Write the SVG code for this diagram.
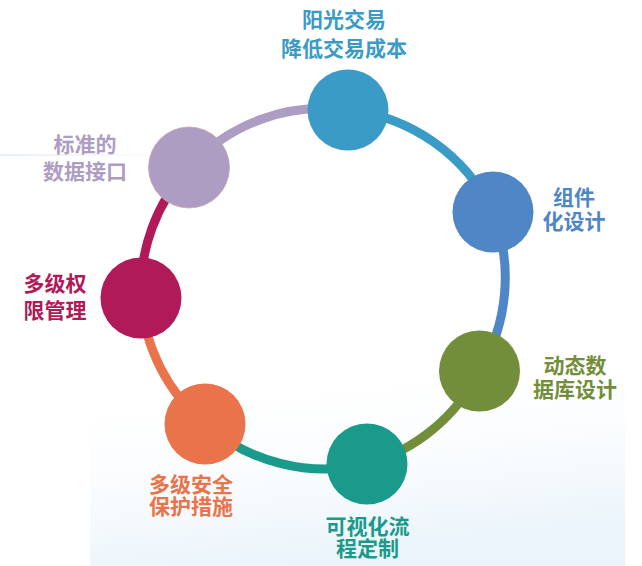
<svg xmlns="http://www.w3.org/2000/svg" width="642" height="566" viewBox="0 0 642 566">
<defs>
<linearGradient id="bg" x1="0" y1="0" x2="0.3" y2="1">
<stop offset="0" stop-color="#ffffff" stop-opacity="0"/>
<stop offset="1" stop-color="#e8f3fa" stop-opacity="0.9"/>
</linearGradient>
<linearGradient id="band" x1="0" y1="0" x2="1" y2="0">
<stop offset="0" stop-color="#e6eef6"/>
<stop offset="1" stop-color="#ffffff" stop-opacity="0"/>
</linearGradient>
<style>
.arc{fill:none;stroke-width:9;}
.lbl{font-family:"Noto Sans CJK SC","Microsoft YaHei",sans-serif;font-weight:bold;font-size:21px;}
</style>
</defs>
<rect width="642" height="566" fill="#ffffff"/>
<rect x="90" y="380" width="535" height="186" fill="url(#bg)"/>
<rect x="0" y="154" width="260" height="2" fill="url(#band)"/>
<g id="connectors">
<path class="arc" stroke="#3a9bc6" d="M348,110 A182,182 0 0 1 493,212"/>
<path class="arc" stroke="#4f86c6" d="M493,212 A182,182 0 0 1 479.5,371"/>
<path class="arc" stroke="#738e3a" d="M479.5,371 A182,182 0 0 1 367,464"/>
<path class="arc" stroke="#1a9a8b" d="M367,464 A182,182 0 0 1 205,424"/>
<path class="arc" stroke="#e9734a" d="M205,424 A182,182 0 0 1 141,298"/>
<path class="arc" stroke="#b01a58" d="M141,298 A182,182 0 0 1 189,167.5"/>
<path class="arc" stroke="#ae9dc2" d="M189,167.5 A182,182 0 0 1 348,110"/>
</g>
<g id="node-top">
<circle cx="348" cy="110" r="40.5" fill="#3a9bc6"/>
<text class="lbl" fill="#3a9bc6" text-anchor="middle"><tspan x="344" y="27">阳光交易</tspan><tspan x="344" y="56">降低交易成本</tspan></text>
</g>
<g id="node-component">
<circle cx="493" cy="212" r="40.5" fill="#4f86c6"/>
<text class="lbl" fill="#4f86c6" text-anchor="middle"><tspan x="574" y="205">组件</tspan><tspan x="574" y="229">化设计</tspan></text>
</g>
<g id="node-db">
<circle cx="479.5" cy="371" r="40.5" fill="#738e3a"/>
<text class="lbl" fill="#738e3a" text-anchor="middle"><tspan x="575" y="373">动态数</tspan><tspan x="575" y="396.5">据库设计</tspan></text>
</g>
<g id="node-flow">
<circle cx="367" cy="464" r="40.5" fill="#1a9a8b"/>
<text class="lbl" fill="#1a9a8b" text-anchor="middle"><tspan x="367.5" y="534">可视化流</tspan><tspan x="367.5" y="556">程定制</tspan></text>
</g>
<g id="node-security">
<circle cx="205" cy="424" r="40.5" fill="#e9734a"/>
<text class="lbl" fill="#e9734a" text-anchor="middle"><tspan x="191" y="492">多级安全</tspan><tspan x="191" y="514">保护措施</tspan></text>
</g>
<g id="node-permission">
<circle cx="141" cy="298" r="40.5" fill="#b01a58"/>
<text class="lbl" fill="#b01a58" text-anchor="middle"><tspan x="55" y="291">多级权</tspan><tspan x="55" y="318">限管理</tspan></text>
</g>
<g id="node-interface">
<circle cx="189" cy="167.5" r="40.5" fill="#ae9dc2" stroke="#c9a7b8" stroke-width="0.8"/>
<text class="lbl" fill="#ae9dc2" text-anchor="middle"><tspan x="85" y="152">标准的</tspan><tspan x="85" y="179">数据接口</tspan></text>
</g>
</svg>
